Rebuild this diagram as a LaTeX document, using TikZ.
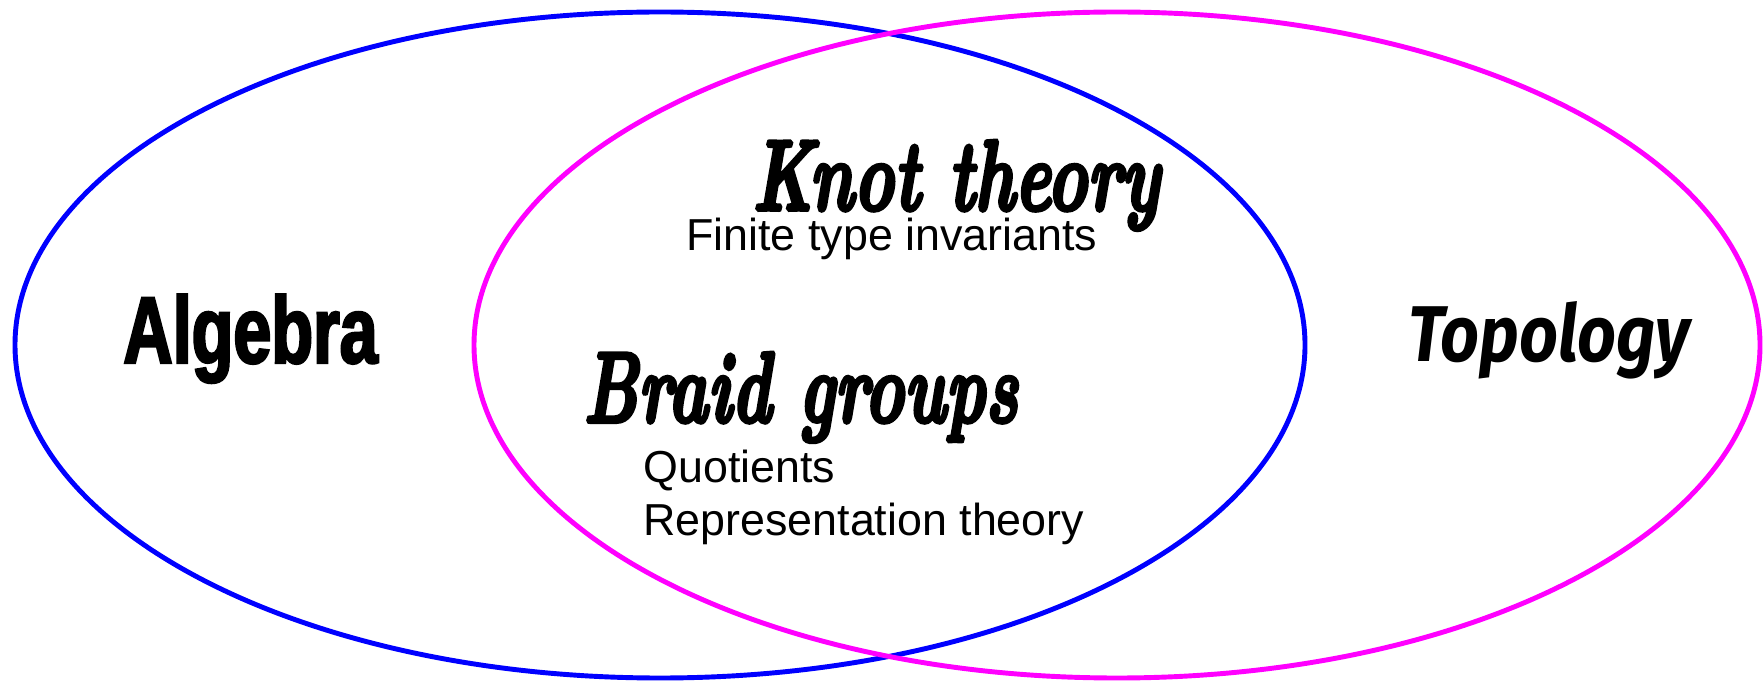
\documentclass[tikz,border=0pt]{standalone}
\usepackage{fontspec}
\usepackage{graphicx}
\newfontfamily\arialfont{Liberation Sans}
\newfontfamily\heavyfont[FakeStretch=0.72, FakeBold=2.5]{Liberation Sans Bold}
\newfontfamily\handfont[FakeStretch=0.86]{Fira Sans Bold Italic}
\newfontfamily\knotfont[FakeBold=4]{lmroman10-bolditalic.otf}
\definecolor{vennBlue}{RGB}{0,0,255}
\definecolor{vennPink}{RGB}{255,0,255}
\tikzset{
  venn/.style   = {line width=2.8pt},
  field/.style  = {anchor=base west, inner sep=0pt},
  topic/.style  = {field, font=\knotfont\fontsize{57}{60}\selectfont},
  item/.style   = {field, font=\arialfont\fontsize{25.5}{28}\selectfont}
}
\newcommand{\squeeze}[2]{\scalebox{#1}[1]{#2}}

\begin{document}
\begin{tikzpicture}[x=0.02cm, y=0.02cm]
    \useasboundingbox (0,0) rectangle (1763,683);

    % the two fields
    \draw[venn, vennBlue] (660,338) ellipse [x radius=645, y radius=333];
    \draw[venn, vennPink] (1117,338) ellipse [x radius=643, y radius=333];

    % outer labels
    \node[field, font=\heavyfont\fontsize{54}{57}\selectfont]
      (algebra) at (123,320) {Algebra};
    \node[field, font=\handfont\fontsize{45}{48}\selectfont]
      (topology) at (1408,321) {Topology};

    % overlap
    \node[topic] (knot) at (752,473) {\squeeze{0.68}{Knot theory}};
    \node[item] (finite) at (686,432) {Finite type invariants};
    \node[topic] (braid) at (583,261) {\squeeze{0.67}{Braid groups}};
    \node[item] (quot) at (643,201) {Quotients};
    \node[item] (rep) at (643,148) {Representation theory};
\end{tikzpicture}
\end{document}
